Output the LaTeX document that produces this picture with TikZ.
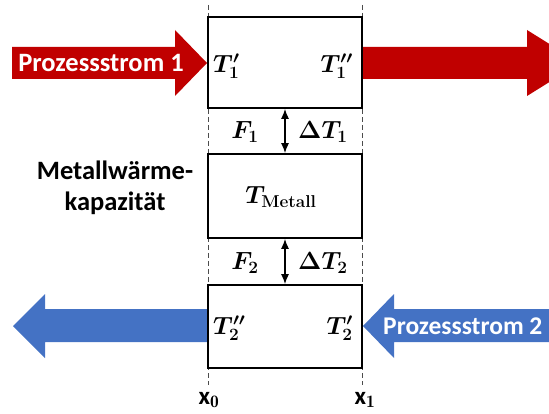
\documentclass[tikz,border=0pt]{standalone}
\usepackage{fontspec}
\setsansfont{Carlito}
\usepackage{amsmath,bm}
\usetikzlibrary{arrows.meta}
\definecolor{pred}{HTML}{C00000}
\definecolor{pblue}{HTML}{4472C4}
\tikzset{
  boxnode/.style={draw=black,line width=1.8pt,minimum width=154pt,minimum height=#1,inner sep=0pt},
  guide/.style={draw=black!70,line width=1pt,dash pattern=on 5pt off 3pt},
  sublabel/.style={font=\fontsize{24.5}{28}\selectfont,inner sep=0pt},
  arrtext/.style={font=\sffamily\bfseries\fontsize{26.5}{31}\selectfont,text=white,inner sep=0pt},
  blacktext/.style={font=\sffamily\bfseries\fontsize{26.5}{31}\selectfont,align=center,inner sep=0pt},
  xlabel/.style={font=\sffamily\bfseries\fontsize{25}{29}\selectfont,inner sep=0pt},
  dbl/.style={{Latex[length=10pt,width=8pt]}-{Latex[length=10pt,width=8pt]},line width=1.2pt}
}
\begin{document}
\begin{tikzpicture}[x=1pt,y=-1pt]
\useasboundingbox (0,0) rectangle (549,414);
\begin{scope}
\clip (0,0) rectangle (549,414);
% red arrows
\fill[pred] (12,47) -- (175,47) -- (175,30) -- (207,63) -- (175,96) -- (175,79) -- (12,79) -- cycle;
\fill[pred] (362,47) -- (527,47) -- (527,30) -- (580,63) -- (527,96) -- (527,79) -- (362,79) -- cycle;
% blue arrows
\fill[pblue] (208,309) -- (45,309) -- (45,294) -- (13,326) -- (45,358) -- (45,342) -- (208,342) -- cycle;
\fill[pblue] (560,309) -- (394,309) -- (394,294) -- (363,326) -- (394,358) -- (394,342) -- (560,342) -- cycle;
\end{scope}
\node[arrtext,anchor=west,font=\sffamily\bfseries\fontsize{25.5}{30}\selectfont] (p2) at (383,326) {Prozessstrom 2};
% guides
\coordinate (g0t) at (208,5);
\coordinate (g0b) at (208,385);
\coordinate (g1t) at (362,5);
\coordinate (g1b) at (362,385);
\draw[guide] (g0t) -- (g0b);
\draw[guide] (g1t) -- (g1b);
% boxes
\node[boxnode=91pt] (b1) at (285,62.5) {};
\node[boxnode=84pt] (b2) at (285,196) {};
\node[boxnode=83pt] (b3) at (285,326.5) {};
\draw[dbl] (b1.south) -- (b2.north);
\draw[dbl] (b2.south) -- (b3.north);
% texts
\node[arrtext] (p1) at (101,63) {Prozessstrom 1};
\node[blacktext] (mw) at (115,188) {Metallwärme-\\kapazität};
\node[sublabel,anchor=west] (t1a) at (213,66) {$\bm{T_1'}$};
\node[sublabel,anchor=east] (t1b) at (353,66) {$\bm{T_1''}$};
\node[sublabel] (f1) at (245,132) {$\bm{F_1}$};
\node[sublabel,anchor=west] (dt1) at (298,132) {$\bm{\Delta T_1}$};
\node[sublabel] (tm) at (281,197) {$\bm{T}_{\textbf{Metall}}$};
\node[sublabel] (f2) at (245,263) {$\bm{F_2}$};
\node[sublabel,anchor=west] (dt2) at (298,263) {$\bm{\Delta T_2}$};
\node[sublabel,anchor=west] (t2a) at (213,328) {$\bm{T_2''}$};
\node[sublabel,anchor=east] (t2b) at (353,328) {$\bm{T_2'}$};
\node[xlabel] (x0) at (209,400) {x$_\mathbf{0}$};
\node[xlabel] (x1) at (365,400) {x$_\mathbf{1}$};
\end{tikzpicture}
\end{document}
